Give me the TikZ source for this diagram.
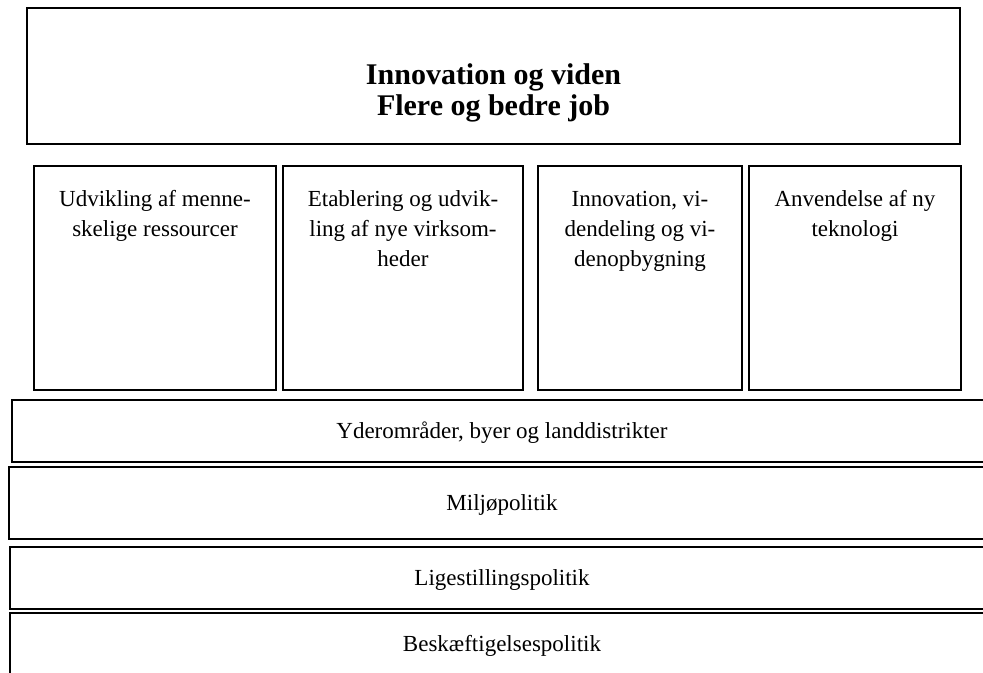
\documentclass[tikz,border=0pt]{standalone}
\usepackage{fontspec}
\setmainfont{Liberation Serif}
\usepackage{tikz}
\usetikzlibrary{positioning}
\tikzset{
  every picture/.append style={line width=1pt},
  every node/.append style={font=\fontsize{11.5}{15}\selectfont},
}
\tikzset{
  box/.style={draw, rectangle, inner sep=0pt},
  colbox/.style={box, minimum height=112pt},
  lane/.style={box, minimum height=31pt, align=center, text height=8.5pt, text depth=1pt}
}

\begin{document}
\begin{tikzpicture}[
  x=0.5pt, y=-0.5pt,
  coltxt/.style={inner sep=0pt, align=center, anchor=north},
  lbl/.style={font=\fontsize{15}{15.5}\selectfont\bfseries, align=center}
]
\clip (0,0) rectangle (983,673);

% ============= Goal =============
\node[box, minimum width=466.5pt, minimum height=68pt] (goal) at (493.5,76) {};
\node[lbl, inner sep=0pt, anchor=north] (goaltxt) at (493.5,63)
  {Innovation og viden\\Flere og bedre job};

% ============= Priorities =============
\node[colbox, minimum width=121pt] (col1) at (155,278) {};
\node[colbox, minimum width=120pt, right=2.5pt of col1] (col2) {};
\node[colbox, minimum width=102pt, right=6.5pt of col2] (col3) {};
\node[colbox, minimum width=106pt, right=2.5pt of col3] (col4) {};

\node[coltxt] (txt1) at ([yshift=-10pt]col1.north) {\strut Udvikling af menne-\\skelige ressourcer};
\node[coltxt] (txt2) at ([yshift=-10pt]col2.north) {\strut Etablering og udvik-\\ling af nye virksom-\\heder};
\node[coltxt] (txt3) at ([yshift=-10pt]col3.north) {\strut Innovation, vi-\\dendeling og vi-\\denopbygning};
\node[coltxt] (txt4) at ([yshift=-10pt]col4.north) {\strut Anvendelse af ny\\teknologi};

% ============= Horizontal themes =============
\node[lane, minimum width=490pt] (yder) at (502,431) {Yderområder, byer og landdistrikter};
\node[lane, minimum width=493pt, minimum height=36pt] (miljo) at (502,503) {Miljøpolitik};
\node[lane, minimum width=492pt] (lige) at (502,578) {Ligestillingspolitik};
\node[lane, minimum width=492pt] (besk) at (502,644) {Beskæftigelsespolitik};

\end{tikzpicture}
\end{document}
